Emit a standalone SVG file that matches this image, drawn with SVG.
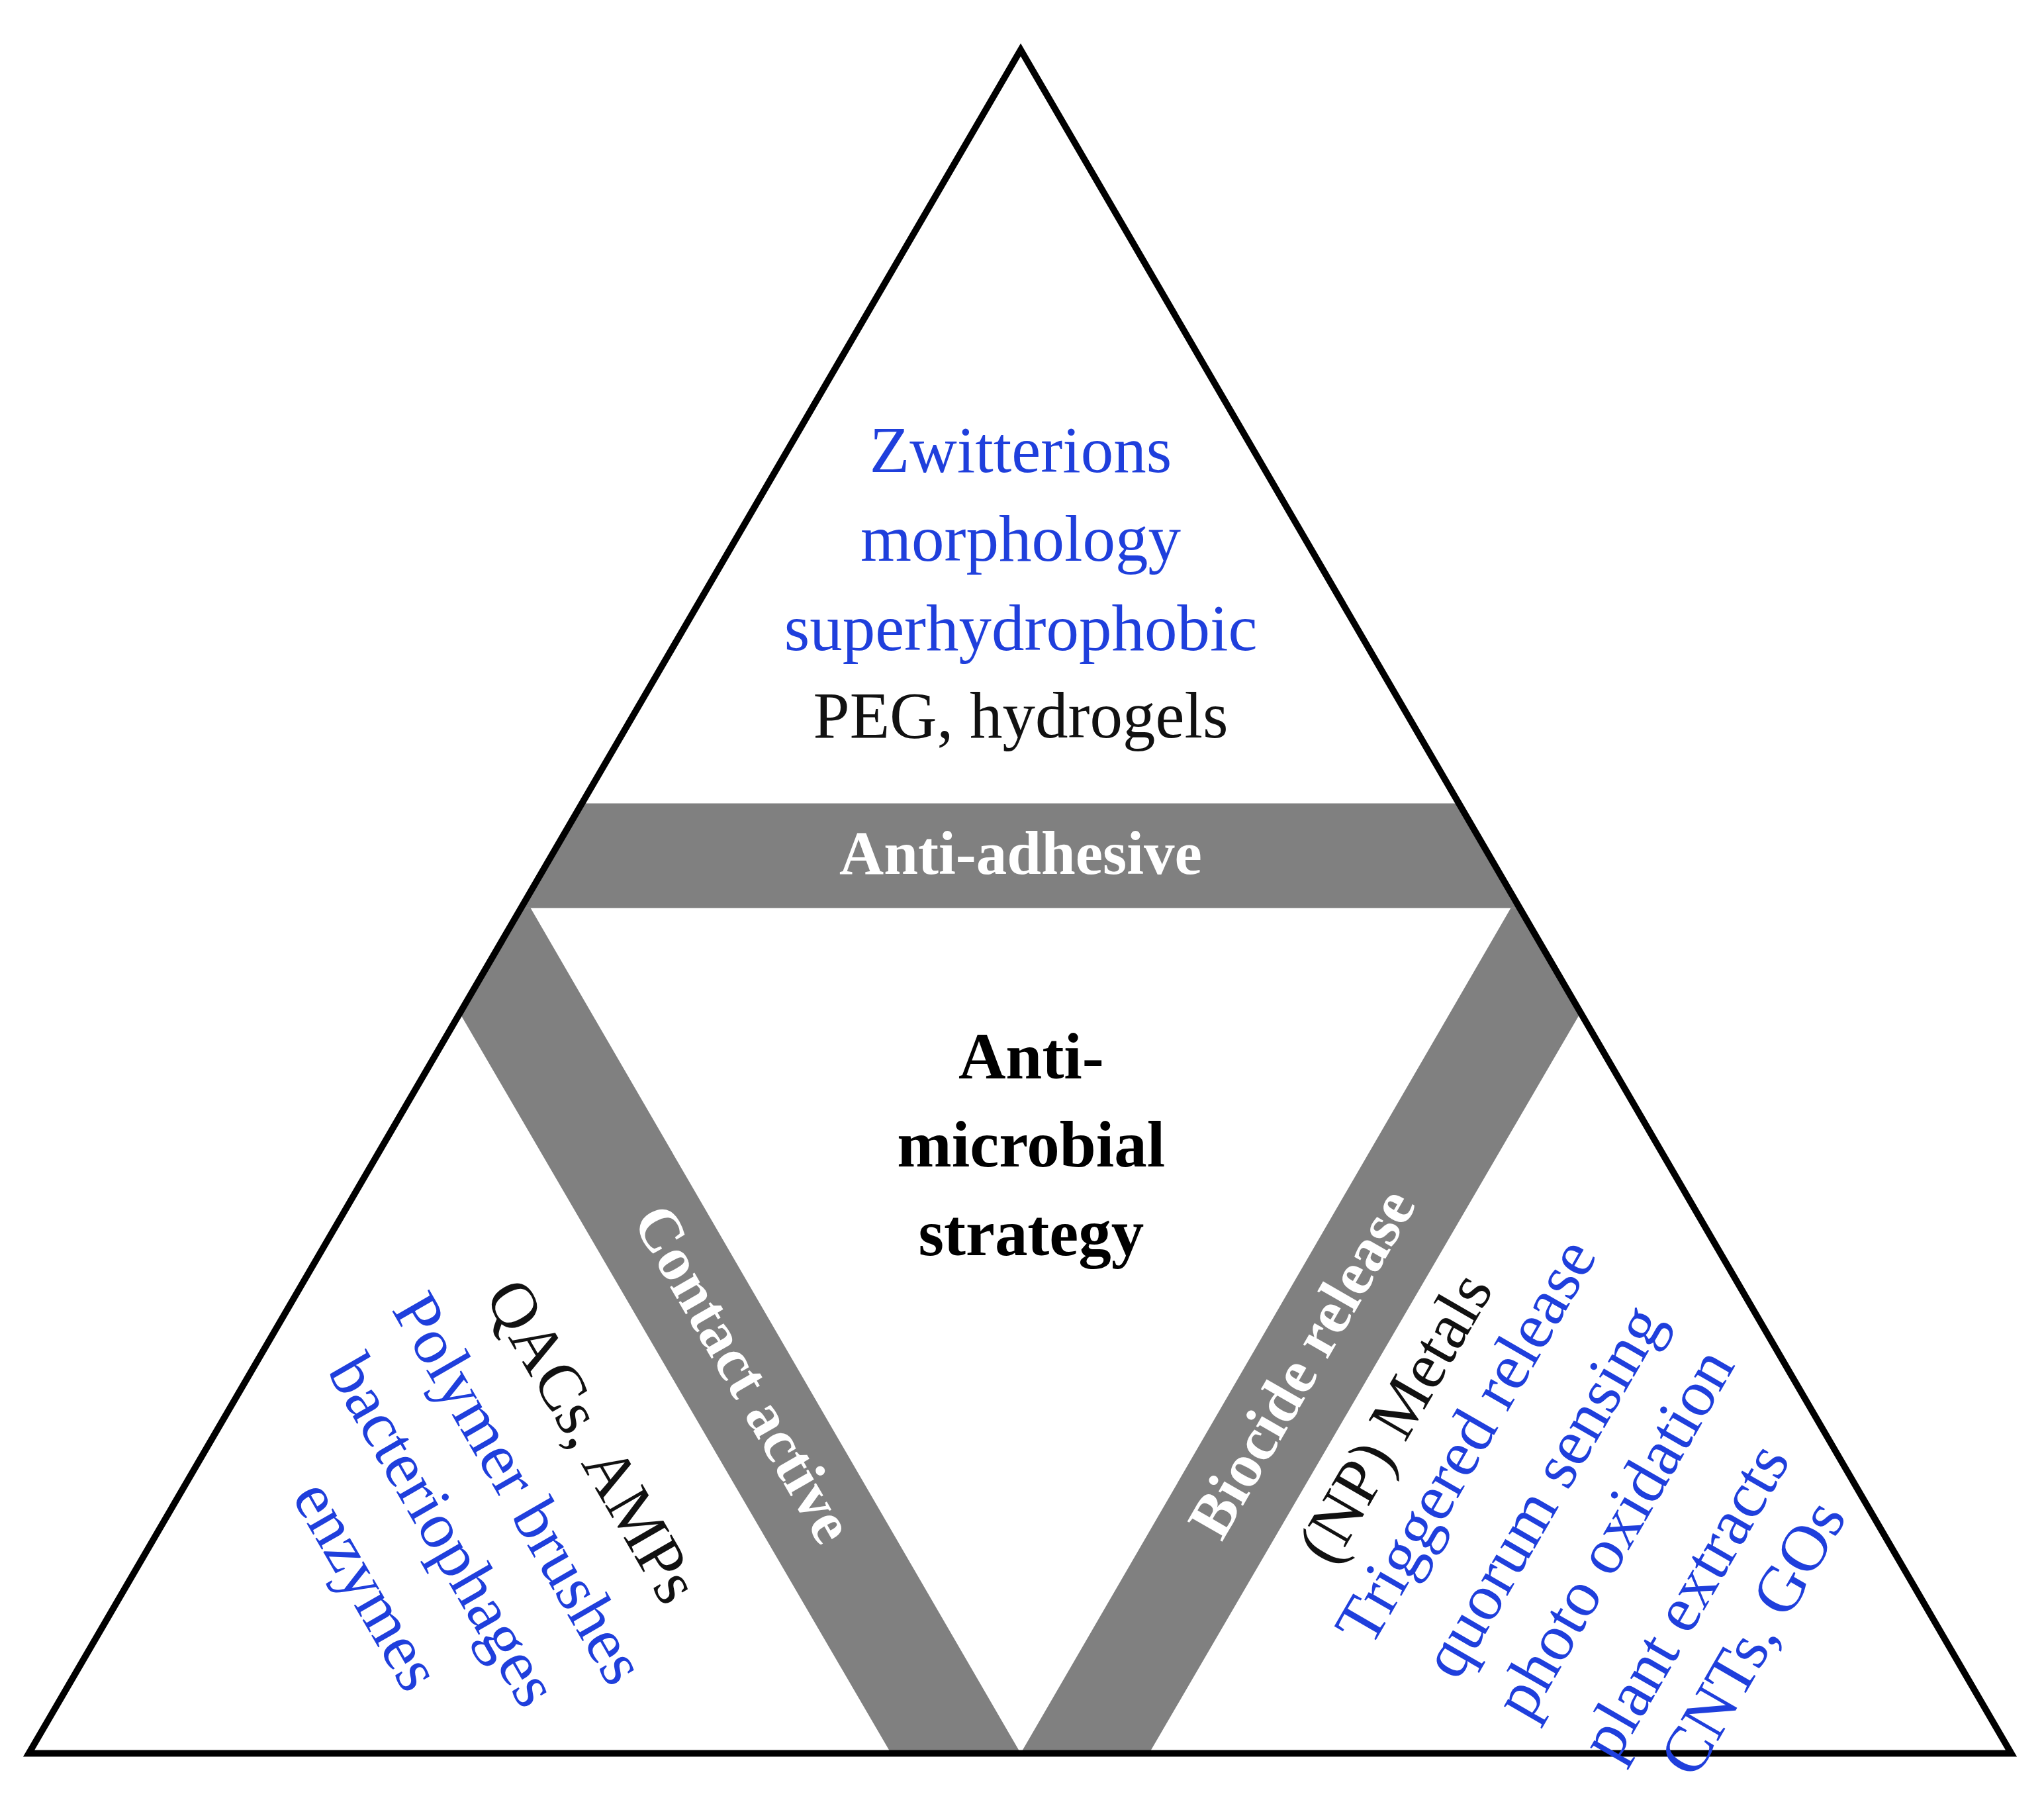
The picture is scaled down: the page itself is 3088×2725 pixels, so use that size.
<svg xmlns="http://www.w3.org/2000/svg" width="3088" height="2725" viewBox="0 0 3088 2725">
<style>
text{font-family:"Liberation Serif","Times New Roman",serif;font-size:50px;text-anchor:middle}
.b{fill:#1f3fdc}.k{fill:#111}.w{fill:#fff;font-weight:bold;font-size:47px}.c{fill:#000;font-weight:bold}
.band{fill:#808080}
</style>
<rect width="3088" height="2725" fill="#fff"/>
<g transform="scale(1.9795)">
<g id="bands">
<polygon class="band" points="444,613 1114,613 1160,693 398,693"/>
<polygon class="band" points="398,693 405,693 779,1338 680,1338 352,775"/>
<polygon class="band" points="1160,693 1153,693 779,1338 877,1338 1205,775"/>
</g>
<polygon id="outline" points="779,38 22,1338 1535,1338" fill="none" stroke="#000" stroke-width="5" stroke-linejoin="miter"/>
<g id="top">
<text class="b" x="779" y="360">Zwitterions</text>
<text class="b" x="779" y="428">morphology</text>
<text class="b" x="779" y="496">superhydrophobic</text>
<text class="k" x="779" y="563">PEG, hydrogels</text>
<text class="w" x="779" y="667">Anti-adhesive</text>
</g>
<g id="center">
<text class="c" x="787" y="823">Anti-</text>
<text class="c" x="787" y="890">microbial</text>
<text class="c" x="787" y="958">strategy</text>
</g>
<g id="left">
<text class="w" transform="translate(568,1048) rotate(60)" dy="16">Contact active</text>
<text class="k" transform="translate(452,1100) rotate(60)" dy="16">QACs, AMPs</text>
<text class="b" transform="translate(396,1136) rotate(60)" dy="16">Polymer brushes</text>
<text class="b" transform="translate(338,1168) rotate(60)" dy="16">bacteriophages</text>
<text class="b" transform="translate(280,1210) rotate(60)" dy="16">enzymes</text>
</g>
<g id="right">
<text class="w" transform="translate(993,1040) rotate(-60)" dy="16">Biocide release</text>
<text class="k" transform="translate(1065,1082) rotate(-60)" dy="16">(NP) Metals</text>
<text class="b" transform="translate(1119,1100) rotate(-60)" dy="16">Triggered release</text>
<text class="b" transform="translate(1178,1138) rotate(-60)" dy="16">quorum sensing</text>
<text class="b" transform="translate(1232,1170) rotate(-60)" dy="16">photo oxidation</text>
<text class="b" transform="translate(1286,1222) rotate(-60)" dy="16">plant extracts</text>
<text class="b" transform="translate(1338,1250) rotate(-60)" dy="16">CNTs, GOs</text>
</g>
</g>
</svg>
